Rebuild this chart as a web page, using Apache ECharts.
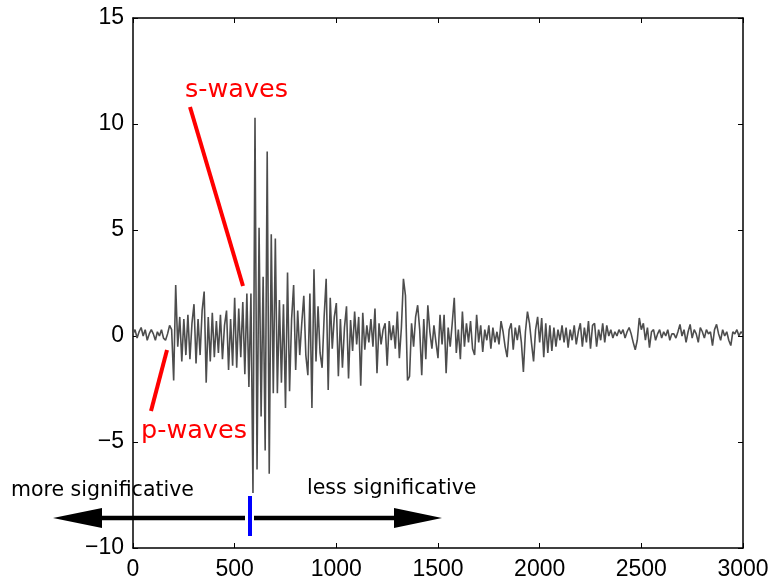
<!DOCTYPE html>
<html>
<head>
<meta charset="utf-8">
<script src="https://cdn.jsdelivr.net/npm/echarts@6/dist/echarts.min.js"></script>
<style>
    html, body { margin: 0; padding: 0; background: #fff; }
    #seismo { width: 773px; height: 588px; }
</style>
</head>
<body>
<div id="seismo"></div>
<script>
// one reading every 10 samples
const sampleStep = 10;
const amplitude = [
    0.1, 0.3, -0.1, 0.2, 0.4, 0.0, 0.3, -0.2, 0.1, 0.3,
    0.1, -0.2, 0.2, 0.0, 0.3, -0.1, -0.2, 0.1, 0.5, 0.3,
    -2.1, 2.4, -0.5, 0.9, -1.2, 0.8, -0.9, 1.0, -1.1, 0.6,
    1.5, -1.3, 0.8, -0.9, 1.2, 2.1, -2.2, 0.9, -1.2, 1.1,
    -1.0, 0.7, -0.8, 1.0, -1.1, 0.5, 1.2, -1.6, 0.8, -1.4,
    1.8, -1.5, 1.3, -1.0, 1.6, -1.8, 2.0, -2.4, 2.0, -7.4,
    10.3, -6.3, 5.1, -3.8, 2.8, -5.4, 8.7, -6.5, 4.8, -2.7,
    4.6, -2.7, 1.7, -2.2, 1.5, -3.4, 3.0, -2.6, 0.8, 2.4,
    -1.6, 1.2, -0.9, 0.6, 1.9, -0.9, -1.85, 2.0, -3.4, 3.15,
    -1.2, 1.4, -0.8, -1.5, 0.9, 2.7, -2.55, 1.8, -0.6, 0.9,
    1.55, -1.9, 0.8, -1.5, 0.4, 1.4, -2.0, 0.75, -0.7, 1.15,
    -0.4, 0.9, -2.35, 1.1, -0.65, 0.5, -0.3, 0.8, -0.5, 1.3,
    -1.75, 0.6, -0.4, 0.3, 0.6, -1.4, 0.7, -0.2, 0.5, -0.6,
    1.15, -1.05, 0.4, 2.7, 1.9, -2.1, -1.9, 0.6, -0.5, 0.9,
    1.45, 0.3, -1.85, 0.8, -1.1, 1.45, 0.2, -0.6, 0.5, -0.3,
    -1.05, 1.0, -0.4, 1.0, -1.75, 0.4, -0.5, 0.6, 1.8, -0.8,
    0.3, -1.1, 1.15, -0.5, 0.6, -0.3, 0.7, -0.6, -0.9, 1.0,
    -0.3, 0.5, -0.75, 0.3, -0.2, 0.5, -0.6, 0.4, -0.3, 0.2,
    -0.4, 0.7, 0.2, -0.5, -1.0, 0.3, 0.6, -0.65, 0.4, -0.2,
    0.5, -0.3, -1.7, 0.2, 1.15, 0.6, -0.35, -1.2, 0.3, 0.9,
    -0.3, 0.85, -1.0, 0.6, -0.8, 0.5, -0.7, 0.4, -0.5, 0.3,
    -0.2, 0.5, -0.3, 0.4, -0.55, 0.3, -0.2, 0.5, -0.4, 0.2,
    0.6, -0.5, 0.4, -0.3, 0.7, -0.6, 0.5, 0.6, -0.5, 0.3,
    -0.2, 0.6, -0.3, 0.5, 0.0, 0.3, -0.1, 0.2, 0.0, 0.3,
    0.1, 0.3, -0.1, 0.2, 0.4, 0.1, -0.3, -0.65, -0.2, 0.85,
    0.3, 0.6, -0.2, 0.4, -0.55, 0.2, 0.3, -0.2, 0.1, 0.3,
    -0.1, 0.2, 0.0, 0.3, -0.2, 0.1, 0.1, -0.1, 0.2, 0.55,
    0.0, 0.3, -0.3, 0.2, 0.55, -0.1, 0.3, 0.1, -0.3, 0.4,
    0.2, -0.1, 0.3, 0.1, 0.2, -0.45, 0.3, 0.55, 0.1, -0.2,
    0.3, 0.0, 0.2, -0.2, -0.45, 0.2, 0.1, 0.3, 0.0, 0.2,
    0.1
];
const xTicks = [0, 500, 1000, 1500, 2000, 2500, 3000];
const yTicks = [-10, -5, 0, 5, 10, 15];

const chart = echarts.init(document.getElementById('seismo'));

const trace = amplitude.map((v, i) => [i * sampleStep, v]);
const minus = v => String(v).replace('-', '\u2212');

const labelFont = {
    color: '#000',
    fontFamily: 'Liberation Sans',
    fontSize: 23
};
const boxLine = { show: true, onZero: false, lineStyle: { color: '#000', width: 1.5 } };
const innerTick = { show: true, inside: true, length: 5, lineStyle: { color: '#000', width: 1 } };

const option = {
    animation: false,
    backgroundColor: '#fff',
    grid: { left: 133, right: 30, top: 18, bottom: 40 },
    xAxis: [{
        type: 'value',
        min: xTicks[0],
        max: xTicks[xTicks.length - 1],
        interval: 500,
        axisLine: boxLine,
        axisTick: innerTick,
        axisLabel: Object.assign({ margin: 10, formatter: v => String(v) }, labelFont),
        splitLine: { show: false }
    }, {
        type: 'value',
        position: 'top',
        min: xTicks[0],
        max: xTicks[xTicks.length - 1],
        interval: 500,
        axisLine: boxLine,
        axisTick: innerTick,
        axisLabel: { show: false },
        splitLine: { show: false }
    }],
    yAxis: [{
        type: 'value',
        min: yTicks[0],
        max: yTicks[yTicks.length - 1],
        interval: 5,
        axisLine: boxLine,
        axisTick: innerTick,
        axisLabel: Object.assign({ margin: 9, formatter: minus }, labelFont),
        splitLine: { show: false }
    }, {
        type: 'value',
        position: 'right',
        min: yTicks[0],
        max: yTicks[yTicks.length - 1],
        interval: 5,
        axisLine: boxLine,
        axisTick: innerTick,
        axisLabel: { show: false },
        splitLine: { show: false }
    }],
    series: [{
        type: 'line',
        data: trace,
        symbol: 'none',
        lineStyle: { color: '#4d4d4d', width: 1.6 },
        z: 2
    }],
    graphic: [
        // annotations
        { type: 'text', left: 185, top: 77, z: 10,
          style: { text: 's-waves', fill: '#ff0000', font: '25.5px "DejaVu Sans"' } },
        { type: 'line', z: 10,
          shape: { x1: 190, y1: 107, x2: 243, y2: 286 },
          style: { stroke: '#ff0000', lineWidth: 4 } },
        { type: 'text', left: 141, top: 418, z: 10,
          style: { text: 'p-waves', fill: '#ff0000', font: '25.5px "DejaVu Sans"' } },
        { type: 'line', z: 10,
          shape: { x1: 167, y1: 350, x2: 151, y2: 411 },
          style: { stroke: '#ff0000', lineWidth: 4 } },
        // significance arrow
        { type: 'text', left: 11, top: 480, z: 10,
          style: { text: 'more significative', fill: '#000', font: '20.5px "DejaVu Sans"' } },
        { type: 'text', left: 307, top: 478, z: 10,
          style: { text: 'less significative', fill: '#000', font: '20.5px "DejaVu Sans"' } },
        { type: 'line', z: 10,
          shape: { x1: 98, y1: 518, x2: 245, y2: 518 },
          style: { stroke: '#000', lineWidth: 4.5 } },
        { type: 'line', z: 10,
          shape: { x1: 254, y1: 518, x2: 398, y2: 518 },
          style: { stroke: '#000', lineWidth: 4.5 } },
        { type: 'polygon', z: 10,
          shape: { points: [[53, 518], [102, 508], [102, 528]] },
          style: { fill: '#000' } },
        { type: 'polygon', z: 10,
          shape: { points: [[442, 518], [394, 508], [394, 528]] },
          style: { fill: '#000' } },
        { type: 'line', z: 11,
          shape: { x1: 250, y1: 496, x2: 250, y2: 536 },
          style: { stroke: '#0000ff', lineWidth: 4 } }
    ]
};

chart.setOption(option);
</script>
</body>
</html>
